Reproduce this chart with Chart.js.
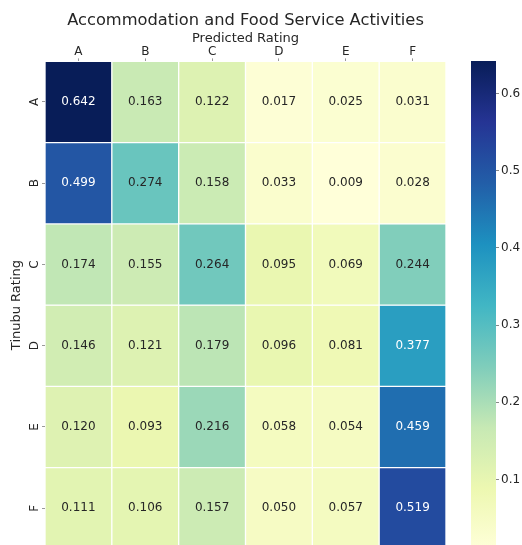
<!DOCTYPE html>
<html>
<head>
<meta charset="utf-8">
<script src="https://cdn.jsdelivr.net/npm/chart.js@4.4.1/dist/chart.umd.min.js"></script>
<style>
  html, body { margin: 0; padding: 0; background: #fff; overflow: hidden; }
  #wrap { position: relative; width: 522px; height: 545px; }
  #heat { position: absolute; left: 0; top: 0; }
  #cbar { position: absolute; left: 460px; top: 0; }
</style>
</head>
<body>
<div id="wrap">
  <canvas id="heat" width="522" height="559"></canvas>
  <canvas id="cbar" width="62" height="559"></canvas>
</div>
<script>
  const predicted = ["A", "B", "C", "D", "E", "F"];
  const actual = ["A", "B", "C", "D", "E", "F"];
  const rowA = [0.642, 0.163, 0.122, 0.017, 0.025, 0.031];
  const rowB = [0.499, 0.274, 0.158, 0.033, 0.009, 0.028];
  const rowC = [0.174, 0.155, 0.264, 0.095, 0.069, 0.244];
  const rowD = [0.146, 0.121, 0.179, 0.096, 0.081, 0.377];
  const rowE = [0.120, 0.093, 0.216, 0.058, 0.054, 0.459];
  const rowF = [0.111, 0.106, 0.157, 0.050, 0.057, 0.519];
  const cbarTicks = [0.1, 0.2, 0.3, 0.4, 0.5, 0.6];

  const rows = [rowA, rowB, rowC, rowD, rowE, rowF];
  const all = rows.flat();
  const vmin = Math.min(...all);
  const vmax = Math.max(...all);

  // YlGnBu
  const stops = ["#ffffd9", "#edf8b1", "#c7e9b4", "#7fcdbb", "#41b6c4", "#1d91c0", "#225ea8", "#253494", "#081d58"];
  const rgbStops = stops.map((h) => [parseInt(h.slice(1, 3), 16), parseInt(h.slice(3, 5), 16), parseInt(h.slice(5, 7), 16)]);

  function cmap(v) {
    let t = (v - vmin) / (vmax - vmin);
    t = Math.max(0, Math.min(1, t));
    const p = t * (rgbStops.length - 1);
    const i = Math.min(Math.floor(p), rgbStops.length - 2);
    const f = p - i;
    const a = rgbStops[i], b = rgbStops[i + 1];
    return [0, 1, 2].map((k) => Math.round(a[k] + (b[k] - a[k]) * f));
  }
  function css(c) {
    return "rgb(" + c[0] + "," + c[1] + "," + c[2] + ")";
  }
  function lum(c) {
    const l = c.map((x) => {
      x = x / 255;
      return x <= 0.03928 ? x / 12.92 : Math.pow((x + 0.055) / 1.055, 2.4);
    });
    return 0.2126 * l[0] + 0.7152 * l[1] + 0.0722 * l[2];
  }

  const textColor = "#262626";
  Chart.defaults.font.family = "'DejaVu Sans', sans-serif";
  Chart.defaults.color = textColor;

  const datasets = rows.map((vals, r) => ({
    label: actual[r],
    data: vals.map(() => [r, r + 1]),
    backgroundColor: vals.map((v) => css(cmap(v))),
    borderColor: "#ffffff",
    borderWidth: 1,
    borderSkipped: false,
    grouped: false,
    categoryPercentage: 1,
    barPercentage: 1,
  }));

  const annotate = {
    id: "annotate",
    afterDatasetsDraw(chart) {
      const ctx = chart.ctx;
      const x = chart.scales.x;
      const y = chart.scales.y;
      ctx.save();
      ctx.font = "12px 'DejaVu Sans'";
      ctx.textAlign = "center";
      ctx.textBaseline = "middle";
      rows.forEach((vals, r) => {
        vals.forEach((v, c) => {
          ctx.fillStyle = lum(cmap(v)) > 0.408 ? textColor : "#ffffff";
          ctx.fillText(v.toFixed(3), x.getPixelForValue(c), y.getPixelForValue(r + 0.5));
        });
      });
      ctx.restore();
    },
  };

  new Chart(document.getElementById("heat"), {
    type: "bar",
    data: { labels: predicted, datasets: datasets },
    options: {
      responsive: false,
      animation: false,
      layout: { padding: { right: 76, bottom: 4 } },
      plugins: {
        legend: { display: false },
        tooltip: { enabled: false },
        title: {
          display: true,
          fullSize: false,
          text: "Accommodation and Food Service Activities",
          color: textColor,
          font: { size: 16.3, weight: "normal" },
          padding: { top: 11, bottom: 0 },
        },
      },
      scales: {
        x: {
          position: "top",
          offset: true,
          grid: { display: true, offset: false, drawOnChartArea: false, drawTicks: true, tickLength: 3, color: "#999" },
          border: { display: false },
          ticks: { padding: 0, font: { size: 12, lineHeight: 1 }, color: textColor },
          title: { display: true, text: "Predicted Rating", font: { size: 13 }, color: textColor, padding: { top: 0, bottom: 0 } },
          afterFit(scale) { scale.height = 30.8; },
        },
        y: {
          min: 0,
          max: 6,
          reverse: true,
          grid: { display: true, drawOnChartArea: false, drawTicks: true, tickLength: 3, color: "#999" },
          border: { display: false },
          afterBuildTicks(scale) {
            scale.ticks = actual.map((_, i) => ({ value: i + 0.5 }));
          },
          ticks: {
            minRotation: 90,
            maxRotation: 90,
            padding: 3,
            crossAlign: "center",
            font: { size: 12 },
            color: textColor,
            callback: (v) => actual[Math.floor(v)],
          },
          title: { display: true, text: "Tinubu Rating", font: { size: 13 }, color: textColor, padding: { top: 9, bottom: 0 } },
          afterFit(scale) { scale.width = 45; },
        },
      },
    },
    plugins: [annotate],
  });

  new Chart(document.getElementById("cbar"), {
    type: "bar",
    data: {
      labels: ["c"],
      datasets: [{
        data: [[vmin, vmax]],
        backgroundColor(ctx) {
          const area = ctx.chart.chartArea;
          if (!area) return "#fff";
          const g = ctx.chart.ctx.createLinearGradient(0, area.bottom, 0, area.top);
          stops.forEach((s, i) => g.addColorStop(i / (stops.length - 1), s));
          return g;
        },
        borderWidth: 0,
        categoryPercentage: 1,
        barPercentage: 1,
      }],
    },
    options: {
      responsive: false,
      animation: false,
      layout: { padding: { left: 11, top: 61, bottom: 4 } },
      plugins: { legend: { display: false }, tooltip: { enabled: false } },
      scales: {
        x: { display: false },
        y: {
          position: "right",
          min: vmin,
          max: vmax,
          grid: { display: true, drawOnChartArea: false, drawTicks: true, tickLength: 3, color: "#888" },
          border: { display: false },
          afterBuildTicks(scale) {
            scale.ticks = cbarTicks.map((v) => ({ value: v }));
          },
          ticks: { padding: 2, font: { size: 12 }, color: textColor, callback: (v) => v.toFixed(1) },
          afterFit(scale) { scale.width = 26; },
        },
      },
    },
  });
</script>
</body>
</html>
